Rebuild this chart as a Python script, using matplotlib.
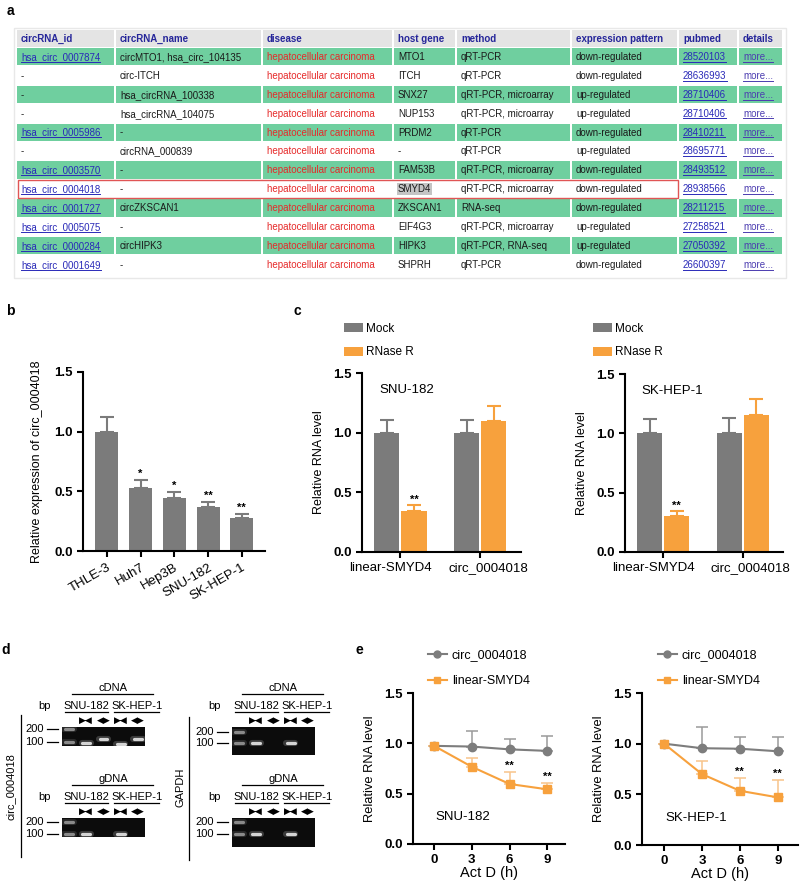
import matplotlib
matplotlib.use('Agg')
import matplotlib.pyplot as plt
from matplotlib.patches import Rectangle, Patch
from matplotlib.lines import Line2D
from matplotlib.ticker import FormatStrFormatter
import matplotlib.transforms as mtransforms
import numpy as np

plt.rcParams['font.family'] = ['Liberation Sans', 'DejaVu Sans']
plt.rcParams['axes.linewidth'] = 1.5
plt.rcParams['xtick.major.width'] = 1.5
plt.rcParams['ytick.major.width'] = 1.5
plt.rcParams['xtick.major.size'] = 4
plt.rcParams['ytick.major.size'] = 4

# ---------------- data ----------------
columns = ['circRNA_id', 'circRNA_name', 'disease', 'host gene', 'method',
           'expression pattern', 'pubmed', 'details']
circ_ids = ['hsa_circ_0007874', '-', '-', '-', 'hsa_circ_0005986', '-',
            'hsa_circ_0003570', 'hsa_circ_0004018', 'hsa_circ_0001727',
            'hsa_circ_0005075', 'hsa_circ_0000284', 'hsa_circ_0001649']
circ_names = ['circMTO1, hsa_circ_104135', 'circ-ITCH', 'hsa_circRNA_100338',
              'hsa_circRNA_104075', '-', 'circRNA_000839', '-', '-',
              'circZKSCAN1', '-', 'circHIPK3', '-']
diseases = ['hepatocellular carcinoma'] * 12
host_genes = ['MTO1', 'ITCH', 'SNX27', 'NUP153', 'PRDM2', '-', 'FAM53B',
              'SMYD4', 'ZKSCAN1', 'EIF4G3', 'HIPK3', 'SHPRH']
methods = ['qRT-PCR', 'qRT-PCR', 'qRT-PCR, microarray', 'qRT-PCR, microarray',
           'qRT-PCR', 'qRT-PCR', 'qRT-PCR, microarray', 'qRT-PCR, microarray',
           'RNA-seq', 'qRT-PCR, microarray', 'qRT-PCR, RNA-seq', 'qRT-PCR']
patterns = ['down-regulated', 'down-regulated', 'up-regulated', 'up-regulated',
            'down-regulated', 'up-regulated', 'down-regulated', 'down-regulated',
            'down-regulated', 'up-regulated', 'up-regulated', 'down-regulated']
pubmeds = ['28520103', '28636993', '28710406', '28710406', '28410211',
           '28695771', '28493512', '28938566', '28211215', '27258521',
           '27050392', '26600397']
details = ['more...'] * 12
highlight_row = 7

b_cells = ['THLE-3', 'Huh7', 'Hep3B', 'SNU-182', 'SK-HEP-1']
b_mean = [1.0, 0.53, 0.447, 0.371, 0.274]
b_err = [0.123, 0.065, 0.05, 0.042, 0.036]
b_sig = ['', '*', '*', '**', '**']

c_genes = ['linear-SMYD4', 'circ_0004018']
c_snu_mock = [1.0, 1.0]
c_snu_mock_err = [0.11, 0.11]
c_snu_rnase = [0.343, 1.096]
c_snu_rnase_err = [0.05, 0.13]
c_snu_sig = ['**', '']
c_sk_mock = [1.0, 1.0]
c_sk_mock_err = [0.12, 0.127]
c_sk_rnase = [0.30, 1.155]
c_sk_rnase_err = [0.042, 0.132]
c_sk_sig = ['**', '']

e_time = [0, 3, 6, 9]
e_snu_circ = [0.975, 0.968, 0.94, 0.925]
e_snu_circ_err = [0.0, 0.156, 0.10, 0.15]
e_snu_lin = [0.975, 0.767, 0.596, 0.543]
e_snu_lin_err = [0.0, 0.083, 0.122, 0.067]
e_snu_sig = ['', '', '**', '**']
e_sk_circ = [1.0, 0.955, 0.95, 0.925]
e_sk_circ_err = [0.0, 0.205, 0.12, 0.145]
e_sk_lin = [1.0, 0.70, 0.535, 0.47]
e_sk_lin_err = [0.0, 0.125, 0.125, 0.17]
e_sk_sig = ['', '', '**', '**']

gel_lanes = ['ladder', 'SNU-182 conv', 'SNU-182 div', 'SK-HEP-1 conv', 'SK-HEP-1 div']
gel_markers = [200, 100]
gel_circ_cdna = [[200, 100], [95], [117], [88], [117]]
gel_circ_gdna = [[200, 100], [98], [], [98], []]
gel_gapdh_cdna = [[200, 100], [100], [], [100], []]
gel_gapdh_gdna = [[200, 100], [98], [], [100], []]

# ---------------- colors ----------------
GRAY = '#7b7b7b'
ORANGE = '#f7a13d'
GREEN = '#6fcf9f'
HDR = '#e4e4e4'
LINK = '#2a2ab8'
RED = '#e62a2a'

W, H = 800, 885
fig = plt.figure(figsize=(8, 8.85), dpi=100)


def px_axes(x0, y0, x1, y1, **kw):
    return fig.add_axes([x0 / W, 1 - y1 / H, (x1 - x0) / W, (y1 - y0) / H], **kw)


ov = fig.add_axes([0, 0, 1, 1])
ov.set_xlim(0, W)
ov.set_ylim(H, 0)
ov.axis('off')
ov.patch.set_alpha(0)

# panel labels
for lab, (x, y) in zip('abcde', [(10, 11), (10, 311), (297, 311), (6, 650), (359, 650)]):
    ov.text(x, y, lab, fontsize=10, fontweight='bold', ha='center', va='center')

# ---------------- panel a: table ----------------
col_edges = [16, 115, 262, 393, 456, 571, 678, 738, 783]
hdr_top, hdr_bot = 30, 47
row0, row_h = 48, 18.9
ov.add_patch(Rectangle((14, 28), 772, 250, facecolor='none', edgecolor='#e8e8e8', lw=1))
for j, name in enumerate(columns):
    x0, x1 = col_edges[j], col_edges[j + 1]
    ov.add_patch(Rectangle((x0 + 1, hdr_top), x1 - x0 - 2, hdr_bot - hdr_top,
                           facecolor=HDR, edgecolor='none'))
    ov.text(x0 + 5, (hdr_top + hdr_bot) / 2, name, fontsize=7, fontweight='bold',
            color='#26269a', va='center', ha='left')

table_cols = [circ_ids, circ_names, diseases, host_genes, methods, patterns, pubmeds, details]
link_texts = []
for i in range(len(circ_ids)):
    top = row0 + i * row_h
    yc = top + (row_h - 1) / 2
    fc = GREEN if i % 2 == 0 else 'white'
    for j, col in enumerate(table_cols):
        x0, x1 = col_edges[j], col_edges[j + 1]
        ov.add_patch(Rectangle((x0 + 1, top), x1 - x0 - 2, row_h - 1.5,
                               facecolor=fc, edgecolor='none'))
        s = col[i]
        color = '#1a1a1a'
        kw = {}
        if j == 2:
            color = RED
        if (j == 0 and s != '-') or j == 6:
            color = LINK
        if j == 7:
            color = '#4b3cb0'
        if j == 3 and i == highlight_row:
            kw['bbox'] = dict(facecolor='#c4c4c4', edgecolor='none', pad=0.6)
        t = ov.text(x0 + 5, yc, s, fontsize=7, color=color, va='center', ha='left', **kw)
        if (j == 0 and s != '-') or j in (6, 7):
            link_texts.append((t, yc, color))
# red highlight box
htop = row0 + highlight_row * row_h
ov.add_patch(Rectangle((18, htop - 0.5), col_edges[6] - 18, row_h - 0.5,
                       facecolor='none', edgecolor='#e05555', lw=1.0))

# ---------------- panel b ----------------
axb = px_axes(83, 372, 265, 551)
xb = np.arange(len(b_cells))
axb.bar(xb, b_mean, width=0.68, color=GRAY, zorder=2)
axb.errorbar(xb, b_mean, yerr=[np.zeros(len(xb)), b_err], fmt='none', ecolor=GRAY,
             elinewidth=1.5, capsize=5, capthick=1.5, zorder=1)
for x, m, e, s in zip(xb, b_mean, b_err, b_sig):
    if s:
        axb.text(x, m + e + 0.01, s, ha='center', va='bottom', fontsize=8, fontweight='bold')
axb.set_xlim(-0.71, 4.69)
axb.set_ylim(0, 1.5)
axb.set_yticks([0, 0.5, 1.0, 1.5])
axb.yaxis.set_major_formatter(FormatStrFormatter('%.1f'))
axb.set_xticks(xb)
axb.set_xticklabels(b_cells, rotation=30, ha='right', rotation_mode='anchor', fontsize=9.5)
axb.set_ylabel('Relative expression of circ_0004018', fontsize=9, labelpad=8)
for lab in axb.get_yticklabels():
    lab.set_fontweight('bold')
    lab.set_fontsize(9.5)
axb.spines['top'].set_visible(False)
axb.spines['right'].set_visible(False)

# ---------------- panel c ----------------
def bar_panel(box, mock, mock_err, rnase, rnase_err, sig, title, title_x, legend_xy):
    ax = px_axes(*box)
    xg = np.arange(len(c_genes))
    ax.bar(xg - 0.17, mock, width=0.315, color=GRAY, zorder=2)
    ax.bar(xg + 0.17, rnase, width=0.315, color=ORANGE, zorder=2)
    ax.errorbar(xg - 0.17, mock, yerr=[np.zeros(2), mock_err], fmt='none', ecolor=GRAY,
                elinewidth=1.5, capsize=5, capthick=1.5, zorder=1)
    ax.errorbar(xg + 0.17, rnase, yerr=[np.zeros(2), rnase_err], fmt='none', ecolor=ORANGE,
                elinewidth=1.5, capsize=5, capthick=1.5, zorder=1)
    for x, m, e, s in zip(xg + 0.17, rnase, rnase_err, sig):
        if s:
            ax.text(x, m + e + 0.005, s, ha='center', va='bottom', fontsize=8, fontweight='bold')
    ax.set_xlim(-0.48, 1.51)
    ax.set_ylim(0, 1.5)
    ax.set_yticks([0, 0.5, 1.0, 1.5])
    ax.yaxis.set_major_formatter(FormatStrFormatter('%.1f'))
    ax.set_xticks(xg)
    ax.set_xticklabels(c_genes, fontsize=9.5)
    for lab, dxp in zip(ax.get_xticklabels(), [-10, 8]):
        lab.set_transform(lab.get_transform() +
                          mtransforms.ScaledTranslation(dxp / 100, 0, fig.dpi_scale_trans))
    for lab in ax.get_yticklabels():
        lab.set_fontweight('bold')
        lab.set_fontsize(9.5)
    ax.set_ylabel('Relative RNA level', fontsize=9, labelpad=6)
    ax.text(title_x, 0.905, title, transform=ax.transAxes, ha='center', va='center', fontsize=9.5)
    ax.spines['top'].set_visible(False)
    ax.spines['right'].set_visible(False)
    handles = [Patch(facecolor=GRAY, label='Mock'), Patch(facecolor=ORANGE, label='RNase R')]
    fig.legend(handles=handles, loc='upper left',
               bbox_to_anchor=(legend_xy[0] / W, 1 - legend_xy[1] / H),
               frameon=False, fontsize=8.5, handlelength=1.6, handleheight=0.8,
               handletextpad=0.3, labelspacing=0.95, borderpad=0, borderaxespad=0)
    return ax


bar_panel((362, 373, 521, 552), c_snu_mock, c_snu_mock_err, c_snu_rnase, c_snu_rnase_err,
          c_snu_sig, 'SNU-182', 0.28, (344, 323))
bar_panel((625, 374, 783, 552), c_sk_mock, c_sk_mock_err, c_sk_rnase, c_sk_rnase_err,
          c_sk_sig, 'SK-HEP-1', 0.30, (593, 323))

# ---------------- panel e ----------------
def line_panel(box, xlim, circ, circ_err, lin, lin_err, sig, title, legend_xy):
    ax = px_axes(*box)
    t = np.array(e_time)
    ax.errorbar(t, circ, yerr=[np.zeros(4), circ_err], fmt='none', ecolor='#9a9a9a',
                elinewidth=1.1, capsize=4, capthick=1.1, zorder=1)
    ax.errorbar(t, lin, yerr=[np.zeros(4), lin_err], fmt='none', ecolor='#f8c48a',
                elinewidth=1.1, capsize=4, capthick=1.1, zorder=1)
    ax.plot(t, circ, color='#7d7d7d', lw=1.5, marker='o', ms=6, zorder=3)
    ax.plot(t, lin, color=ORANGE, lw=1.5, marker='s', ms=6, zorder=3)
    for x, m, e, s in zip(t, lin, lin_err, sig):
        if s:
            ax.text(x, m + e + 0.01, s, ha='center', va='bottom', fontsize=8, fontweight='bold')
    ax.set_xlim(*xlim)
    ax.set_ylim(0, 1.5)
    ax.set_yticks([0, 0.5, 1.0, 1.5])
    ax.yaxis.set_major_formatter(FormatStrFormatter('%.1f'))
    ax.set_xticks(e_time)
    for lab in ax.get_yticklabels() + ax.get_xticklabels():
        lab.set_fontweight('bold')
        lab.set_fontsize(9.5)
    ax.set_xlabel('Act D (h)', fontsize=10.5, labelpad=0)
    ax.set_ylabel('Relative RNA level', fontsize=9.3, labelpad=6)
    ax.text(0.15, 0.18, title, transform=ax.transAxes, ha='left', va='center', fontsize=9.5)
    ax.spines['top'].set_visible(False)
    ax.spines['right'].set_visible(False)
    handles = [Line2D([], [], color='#7d7d7d', lw=1.5, marker='o', ms=5, label='circ_0004018'),
               Line2D([], [], color=ORANGE, lw=1.5, marker='s', ms=5, label='linear-SMYD4')]
    fig.legend(handles=handles, loc='upper left',
               bbox_to_anchor=(legend_xy[0] / W, 1 - legend_xy[1] / H),
               frameon=False, fontsize=9, handlelength=1.5, handletextpad=0.4,
               labelspacing=1.15, borderpad=0, borderaxespad=0)
    return ax


line_panel((413, 693, 565, 844), (-1.67, 10.4), e_snu_circ, e_snu_circ_err, e_snu_lin,
           e_snu_lin_err, e_snu_sig, 'SNU-182', (428, 649))
line_panel((642, 693, 798, 845), (-1.74, 10.6), e_sk_circ, e_sk_circ_err, e_sk_lin,
           e_sk_lin_err, e_sk_sig, 'SK-HEP-1', (658, 649))

# ---------------- panel d: gels ----------------
def gel_block(dx, dy, gel_bottom, ylim, bands, title):
    ov.text(113 + dx, 688 + dy, title, fontsize=8, ha='center', va='center')
    ov.plot([72 + dx, 153 + dx], [694 + dy, 694 + dy], color='k', lw=0.9)
    ov.text(45 + dx, 706 + dy, 'bp', fontsize=8, ha='center', va='center')
    ov.text(86.5 + dx, 706 + dy, 'SNU-182', fontsize=8, ha='center', va='center')
    ov.text(137 + dx, 706 + dy, 'SK-HEP-1', fontsize=8, ha='center', va='center')
    ov.plot([65 + dx, 108 + dx], [712 + dy, 712 + dy], color='k', lw=0.9)
    ov.plot([114 + dx, 159 + dx], [712 + dy, 712 + dy], color='k', lw=0.9)
    gx0, gx1 = 62 + dx, 145 + dx
    gy0, gy1 = 727 + dy, gel_bottom + dy
    ax = px_axes(gx0, gy0, gx1, gy1)
    ax.set_facecolor('#0c0c0c')
    ax.set_yscale('log')
    ax.set_xlim(-0.4, 4.4)
    ax.set_ylim(*ylim)
    ax.set_xticks([])
    ax.set_yticks([])
    ax.minorticks_off()
    for sp in ax.spines.values():
        sp.set_visible(False)
    for i, lane in enumerate(bands):
        for bp in lane:
            if i == 0:
                col, glow = '#8a8a8a', '#3c3c3c'
            else:
                col, glow = '#d4d4d4', '#5a5a5a'
            ax.plot([i - 0.27, i + 0.27], [bp, bp], color=glow, lw=4.4, alpha=0.6,
                    solid_capstyle='round')
            ax.plot([i - 0.23, i + 0.23], [bp, bp], color=col, lw=2.3,
                    solid_capstyle='round')
        if i > 0:
            xd = ax.transData.transform((i, ylim[1]))[0]
            sym = '\u25B6\u25C0' if i % 2 == 1 else '\u25C0\u25B6'
            ov.text(xd, 720 + dy, sym, fontsize=6.5, ha='center', va='center',
                    family=['DejaVu Sans'])
    for bp in gel_markers:
        yd = H - ax.transData.transform((0, bp))[1]
        ov.text(44 + dx, yd, str(bp), fontsize=8, ha='right', va='center')
        ov.plot([47 + dx, 58 + dx], [yd, yd], color='k', lw=0.9)
    return ax


gel_block(0, 0, 746, (80.8, 222), gel_circ_cdna, 'cDNA')
gel_block(0, 91, 746, (83.5, 262), gel_circ_gdna, 'gDNA')
gel_block(170, 0, 755, (47, 274), gel_gapdh_cdna, 'cDNA')
gel_block(170, 91, 756, (47, 252), gel_gapdh_gdna, 'gDNA')

ov.plot([21, 21], [715, 857], color='k', lw=0.9)
ov.text(11, 787, 'circ_0004018', rotation=90, fontsize=8, ha='center', va='center')
ov.plot([189, 189], [717, 860], color='k', lw=0.9)
ov.text(180, 787, 'GAPDH', rotation=90, fontsize=8, ha='center', va='center')

# ---------------- underline links ----------------
fig.canvas.draw()
renderer = fig.canvas.get_renderer()
for t, yc, color in link_texts:
    bb = t.get_window_extent(renderer)
    ov.plot([bb.x0, bb.x1], [yc + 4.8, yc + 4.8], color=color, lw=0.7)

fig.savefig('out.png', dpi=100)
